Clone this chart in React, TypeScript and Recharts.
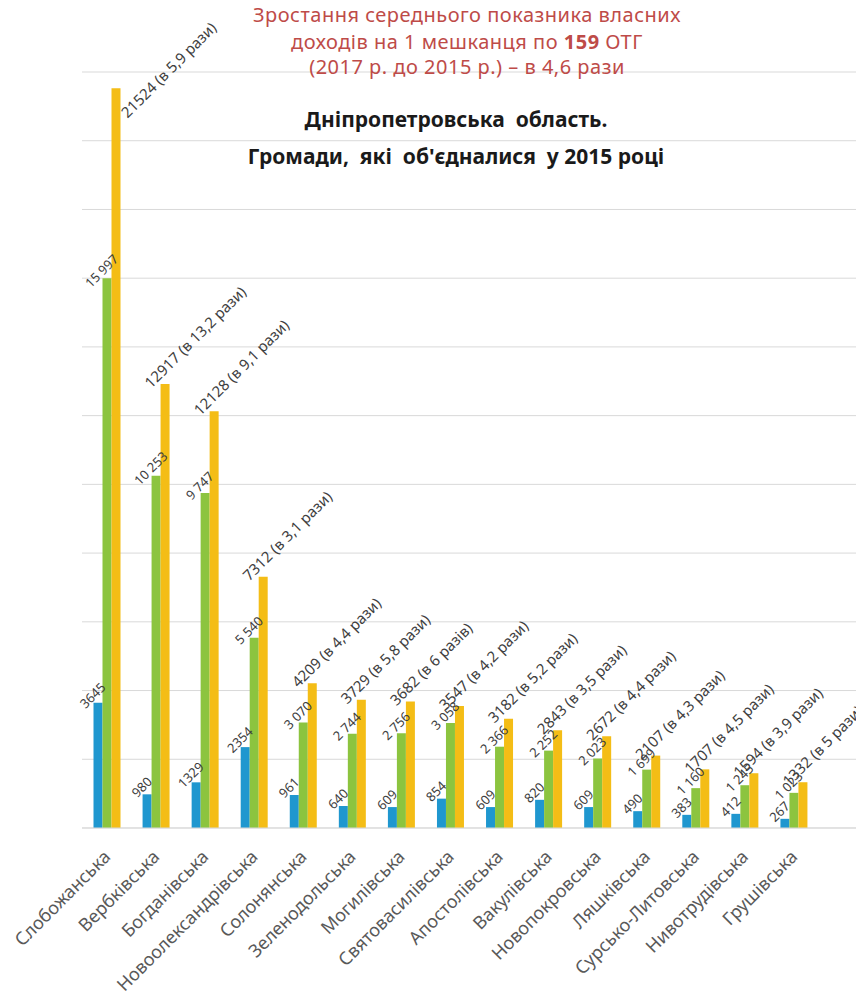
import { BarChart, Bar, XAxis, YAxis, CartesianGrid, LabelList } from "recharts";

const communities = [
  "Слобожанська",
  "Вербківська",
  "Богданівська",
  "Новоолександрівська",
  "Солонянська",
  "Зеленодольська",
  "Могилівська",
  "Святовасилівська",
  "Апостолівська",
  "Вакулівська",
  "Новопокровська",
  "Ляшківська",
  "Сурсько-Литовська",
  "Нивотрудівська",
  "Грушівська",
];

const income2015 = [3645, 980, 1329, 2354, 961, 640, 609, 854, 609, 820, 609, 490, 383, 412, 267];
const income2016 = [15997, 10253, 9747, 5540, 3070, 2744, 2756, 3058, 2366, 2252, 2023, 1699, 1160, 1245, 1023];
const income2017 = [21524, 12917, 12128, 7312, 4209, 3729, 3682, 3547, 3182, 2843, 2672, 2107, 1707, 1594, 1332];
const growth = [
  "в 5,9 рази",
  "в 13,2 рази",
  "в 9,1 рази",
  "в 3,1 рази",
  "в 4,4 рази",
  "в 5,8 рази",
  "в 6 разів",
  "в 4,2 рази",
  "в 5,2 рази",
  "в 3,5 рази",
  "в 4,4 рази",
  "в 4,3 рази",
  "в 4,5 рази",
  "в 3,9 рази",
  "в 5 рази",
];
const yTicks = [0, 2000, 4000, 6000, 8000, 10000, 12000, 14000, 16000, 18000, 20000, 22000];

const spaced = (v: number) => String(v).replace(/\B(?=(\d{3})+(?!\d))/g, " ");

const data = communities.map((name, i) => ({
  name,
  y2015: income2015[i],
  y2016: income2016[i],
  y2017: income2017[i],
  label2015: String(income2015[i]),
  label2016: spaced(income2016[i]),
  label2017: `${income2017[i]} (${growth[i]})`,
}));

const LABEL_COLOR = "#404040";

// short labels (2015, 2016) sit centred just above the bar top
const ShortLabel = (props: any) => {
  const vb = props.viewBox || props;
  const cx = vb.x + vb.width / 2 - 2;
  const cy = vb.y - 4;
  return (
    <text
      x={cx}
      y={cy}
      transform={`rotate(-45 ${cx} ${cy})`}
      textAnchor="middle"
      fontSize={13}
      fill={LABEL_COLOR}
    >
      {props.value}
    </text>
  );
};

// long 2017 labels start at the bar top and run up to the right
const LongLabel = (props: any) => {
  const vb = props.viewBox || props;
  const fs = 15;
  let bx = vb.x + vb.width / 2 - 14;
  let by = vb.y + 5;
  const len = String(props.value).length * fs * 0.5;
  const top = by - 0.707 * (len + fs * 0.7);
  if (top < 8) {
    const s = 8 - top;
    bx += s;
    by += s;
  }
  return (
    <text
      x={bx}
      y={by}
      transform={`rotate(-45 ${bx} ${by})`}
      textAnchor="start"
      fontSize={fs}
      fill={LABEL_COLOR}
    >
      {props.value}
    </text>
  );
};

const CategoryTick = ({ x, y, payload }: any) => {
  const tx = x + 5;
  const ty = y + 22;
  return (
    <text
      x={tx}
      y={ty}
      transform={`rotate(-45 ${tx} ${ty})`}
      textAnchor="end"
      fontSize={18}
      fill="#595959"
    >
      {payload.value}
    </text>
  );
};

const line = (top: number, centre: number, width: number): React.CSSProperties => ({
  position: "absolute",
  top,
  left: centre - width / 2,
  width,
  textAlign: "center",
  whiteSpace: "nowrap",
});

const redTitle: React.CSSProperties = {
  fontSize: 20,
  letterSpacing: 0.5,
  lineHeight: "20px",
  color: "#BE4B48",
};

const blackTitle: React.CSSProperties = {
  fontSize: 21,
  lineHeight: "26px",
  fontWeight: 700,
  color: "#1a1a1a",
};

const App = () => {
  return (
    <div
      style={{
        position: "relative",
        width: 856,
        height: 994,
        fontFamily: '"Noto Sans", sans-serif',
      }}
    >
      <BarChart
        width={856}
        height={994}
        data={data}
        margin={{ top: 64, right: 6, left: 74, bottom: 0 }}
        barCategoryGap={11.5}
        barGap={0}
      >
        <CartesianGrid vertical={false} stroke="#d9d9d9" />
        <XAxis
          dataKey="name"
          interval={0}
          height={174}
          padding={{ left: 0, right: 40 }}
          tickLine={false}
          axisLine={{ stroke: "#d9d9d9" }}
          tick={<CategoryTick />}
        />
        <YAxis hide domain={[0, 22000]} ticks={yTicks} />
        <Bar dataKey="y2015" fill="#1F97CF" isAnimationActive={false}>
          <LabelList dataKey="label2015" content={<ShortLabel />} />
        </Bar>
        <Bar dataKey="y2016" fill="#8CC43F" isAnimationActive={false}>
          <LabelList dataKey="label2016" content={<ShortLabel />} />
        </Bar>
        <Bar dataKey="y2017" fill="#F4BD16" isAnimationActive={false}>
          <LabelList dataKey="label2017" content={<LongLabel />} />
        </Bar>
      </BarChart>

      <div style={{ ...line(-3, 459, 640), ...redTitle }}>
        Зростання середнього показника власних
      </div>
      <div style={{ ...line(24, 459, 640), ...redTitle }}>
        доходів на 1 мешканця по <b>159</b> ОТГ
      </div>
      <div style={{ ...line(49, 459, 640), ...redTitle }}>
        (2017 р. до 2015 р.) – в 4,6 рази
      </div>

      <div style={{ ...line(98, 448, 640), ...blackTitle }}>
        Дніпропетровська&nbsp; область.
      </div>
      <div style={{ ...line(135, 448, 640), ...blackTitle }}>
        Громади,&nbsp; які&nbsp; об'єдналися&nbsp; у 2015 році
      </div>
    </div>
  );
};

export default App;
